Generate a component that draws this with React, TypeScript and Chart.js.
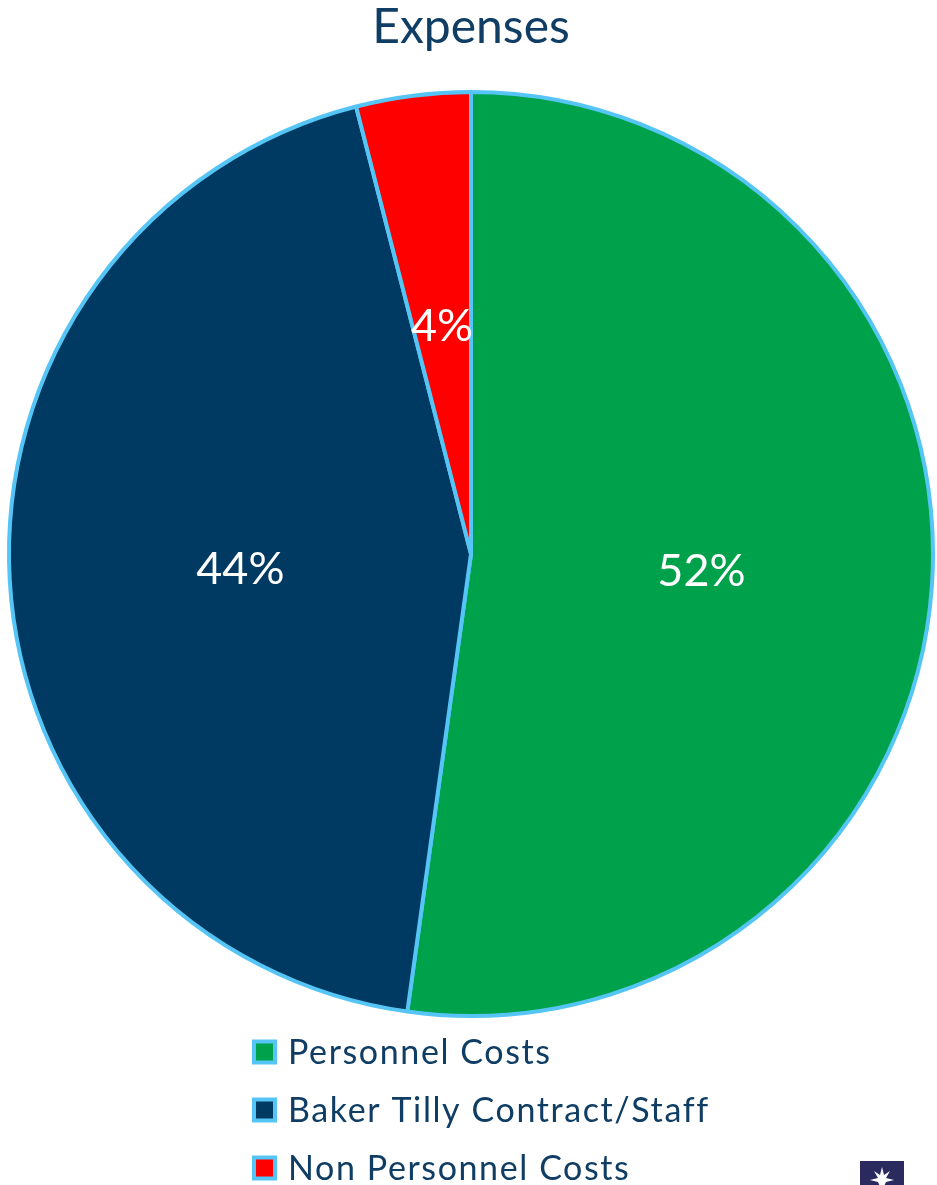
import React, { useEffect, useRef } from "react";
import { Chart, registerables } from "chart.js";

Chart.register(...registerables);

const TITLE = "Expenses";
const CATEGORIES = ["Personnel Costs", "Baker Tilly Contract/Staff", "Non Personnel Costs"];
const VALUES = [52.2, 43.8, 4.0];
const COLORS = ["#00A14B", "#003A63", "#FF0000"];
const BORDER = "#55C5F5";
const TEXT_DARK = "#0F3D64";
const FONT = "Lato, 'Open Sans', sans-serif";

const sliceLabels = {
  id: "sliceLabels",
  afterDatasetsDraw(chart: any) {
    const ctx = chart.ctx;
    const meta = chart.getDatasetMeta(0);
    const data = chart.data.datasets[0].data as number[];
    const total = data.reduce((a, b) => a + b, 0);
    ctx.save();
    ctx.fillStyle = "#FFFFFF";
    ctx.font = `45px ${FONT}`;
    ctx.textAlign = "center";
    ctx.textBaseline = "middle";
    meta.data.forEach((arc: any, i: number) => {
      const p = arc.tooltipPosition();
      const pct = Math.round((data[i] / total) * 100) + "%";
      ctx.fillText(pct, p.x, p.y + 2);
    });
    ctx.restore();
  },
};

const customLegend = {
  id: "customLegend",
  afterDraw(chart: any) {
    const ctx = chart.ctx;
    const labels = chart.data.labels as string[];
    const colors = chart.data.datasets[0].backgroundColor as string[];
    const top = chart.chartArea.bottom;
    const boxX = 252;
    const box = 25;
    const inset = 4;
    const rowH = 58;
    const firstY = top + 34;
    ctx.save();
    ctx.font = `34px ${FONT}`;
    (ctx as any).letterSpacing = "1.6px";
    ctx.textBaseline = "middle";
    ctx.textAlign = "left";
    labels.forEach((lab, i) => {
      const cy = firstY + i * rowH;
      ctx.fillStyle = BORDER;
      ctx.fillRect(boxX, cy - box / 2, box, box);
      ctx.fillStyle = colors[i];
      ctx.fillRect(boxX + inset, cy - box / 2 + inset, box - inset * 2, box - inset * 2);
      ctx.fillStyle = TEXT_DARK;
      ctx.fillText(lab, boxX + box + 11, cy + 1);
    });
    (ctx as any).letterSpacing = "0px";
    ctx.restore();
  },
};

export default function App() {
  const ref = useRef<HTMLCanvasElement | null>(null);
  useEffect(() => {
    document.body.style.margin = "0";
    if (!ref.current) return;
    const chart = new Chart(ref.current, {
      type: "pie",
      data: {
        labels: CATEGORIES,
        datasets: [
          {
            data: VALUES,
            backgroundColor: COLORS,
            borderColor: BORDER,
            borderWidth: 4,
          },
        ],
      },
      options: {
        responsive: false,
        animation: false,
        events: [],
        layout: { padding: { top: 0, left: 6, right: 1, bottom: 167 } },
        plugins: {
          legend: { display: false },
          tooltip: { enabled: false },
          title: {
            display: true,
            text: TITLE,
            color: TEXT_DARK,
            font: { family: FONT, size: 48, weight: "normal", lineHeight: 1.15 },
            padding: { top: 0, bottom: 34.8 },
          },
        },
      },
      plugins: [sliceLabels, customLegend],
    });
    return () => chart.destroy();
  }, []);
  return (
    <div style={{ position: "absolute", left: 0, top: 0, width: 937, height: 1185, background: "#FFFFFF" }}>
      <canvas ref={ref} width={937} height={1185} style={{ display: "block" }} />
      <div
        style={{
          position: "absolute",
          left: 860,
          top: 1161,
          width: 44,
          height: 24,
          background: "#2B2A5F",
          overflow: "hidden",
        }}
      >
        <svg width={44} height={24} viewBox="0 0 44 24">
          <polygon
            points="22,6 24,14 30,10 26,17 34,19 26,21 22,30 18,21 10,19 18,17 14,10 20,14"
            fill="#FFFFFF"
          />
        </svg>
      </div>
    </div>
  );
}
